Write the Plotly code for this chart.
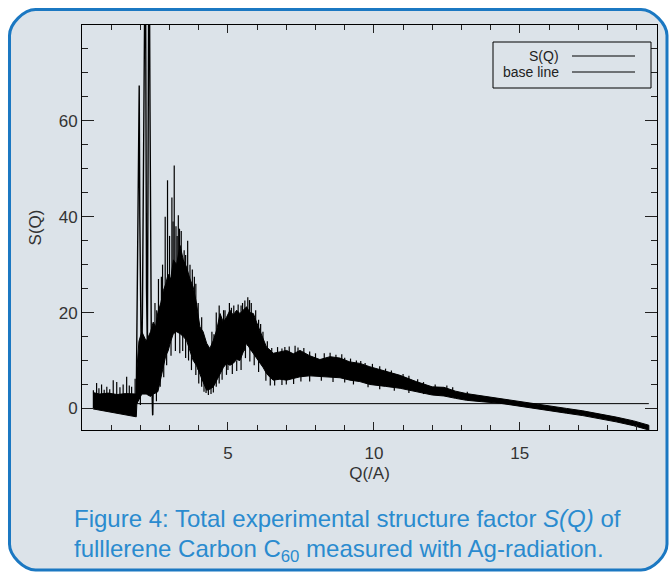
import plotly.graph_objects as go

# ---------------- data ----------------
# envelope of the dense, noisy S(Q) band
q_env = [0.38, 0.6, 0.9, 1.2, 1.5, 1.86,
         1.88, 1.95, 2.05, 2.2, 2.35, 2.44, 2.52, 2.6, 2.7, 2.79,
         2.87, 2.95, 3.04, 3.13, 3.24, 3.36, 3.47, 3.58, 3.7, 3.81,
         3.92, 4.04, 4.15, 4.27, 4.38, 4.5, 4.62, 4.73, 4.84, 4.95,
         5.07, 5.18, 5.3, 5.41, 5.52, 5.64, 5.75, 5.87, 5.98, 6.1,
         6.21, 6.32, 6.44, 6.55, 6.78, 7.01, 7.24, 7.47, 7.8, 8.15,
         8.5, 8.84, 9.18, 9.52, 9.86, 10.4, 10.9, 11.45, 12.0, 12.4,
         12.8, 13.17, 13.7, 14.3, 15.0, 15.5, 16.03, 16.6, 17.16, 17.7,
         18.3, 18.9, 19.42]
s_hi = [3.3, 3.0, 3.2, 2.9, 3.1, 3.0,
        8, 14, 16, 14, 16, 18, 17, 20, 22, 24.6,
        26, 28, 27, 31, 30, 34, 31, 29.5, 27, 25.3,
        22, 17, 16, 13.6, 12.5, 14.2, 16.5, 19.8, 18, 19,
        20.5, 19.5, 20.5, 19.8, 20.5, 21.2, 20, 19.8, 18, 16.3,
        14.5, 12.8, 12.2, 11.5, 11.8, 12.1, 11.4, 12.1, 11.0, 10.2,
        10.8, 10.5, 9.7, 9.4, 8.7, 7.8, 6.9, 5.6, 4.5, 4.4,
        3.6, 3.1, 2.6, 2.1, 1.4, 1.0, 0.5, 0.0, -0.5, -1.1,
        -1.8, -2.6, -3.5]
s_lo = [-0.1, -0.35, -0.7, -1.0, -1.35, -1.75,
        1, 2, 3, 3, 2.5, 3, 3.2, 3.5, 6, 8.7,
        11, 12, 14, 15.6, 16, 15.6, 15, 14.2, 12, 10,
        9, 7.3, 5.5, 3.8, 4.0, 4.5, 6, 7.3, 8.5, 9.4,
        9.0, 9.4, 10.2, 10, 11.5, 13.6, 12.5, 11.5, 10.5, 9.4,
        8.5, 7.3, 6.5, 5.9, 6.1, 5.9, 6.3, 6.6, 6.8, 6.6,
        6.5, 6.4, 5.9, 5.6, 5.0, 4.6, 4.2, 3.5, 2.8, 2.6,
        2.1, 1.7, 1.4, 1.1, 0.4, 0.0, -0.5, -1.0, -1.5, -2.1,
        -2.8, -3.6, -4.5]

# individual noise spikes sticking out of the band (Q, from, to)
spike_q = [0.39, 0.50, 0.58, 0.67, 0.76, 0.85, 0.95, 1.07, 1.19, 1.30, 1.41, 1.53, 1.62, 1.70, 1.82,
           2.50, 2.62, 2.76, 2.85, 2.93, 3.00, 3.08, 3.16, 3.22, 3.30, 3.40, 3.50, 3.62, 3.70, 3.78, 3.90, 3.98,
           4.10, 4.60, 4.70, 4.85, 5.05, 5.20, 5.35, 5.50, 5.68, 5.80, 5.95, 6.05, 6.20,
           6.70, 6.95, 7.30, 7.60, 8.00, 8.30, 8.70, 9.00, 9.40, 9.70, 10.2, 10.6, 11.2, 11.7, 12.5,
           2.42, 2.00, 2.55, 2.68, 2.90, 3.20, 3.45, 3.65, 3.90, 4.10, 4.25, 4.33, 4.42, 4.60, 4.80,
           5.00, 5.30, 5.60, 5.90, 6.30, 6.60, 7.00, 7.50, 8.20, 9.00, 9.80, 10.7,
           2.56, 2.72, 3.12, 3.26, 3.34, 3.55, 3.85, 4.45, 4.52, 4.90, 5.12, 5.45, 5.58, 5.74,
           6.12, 6.35, 6.50, 6.85, 7.10, 7.40, 7.80, 8.50, 8.90, 9.20, 9.55, 9.95, 10.4, 11.0,
           11.5, 12.1, 12.7, 13.2,
           2.80, 3.05, 3.35, 3.55, 3.75, 4.00, 4.18, 4.50, 4.70, 4.95, 5.15, 5.45, 5.75, 6.05,
           6.45, 6.85, 7.25, 7.80, 8.60, 9.30, 10.2, 11.2]
spike_from = [0, 0, 0, 0, 0, 0, 0, 0, 0, 0, 0, 0, 0, 0, 0,
              5, 8, 12, 14, 14, 16, 18, 18, 18, 18, 18, 16, 15, 14, 12, 10, 8,
              6, 8, 8, 10, 10, 10, 11, 12, 13, 12, 11, 10, 9,
              7, 7, 7, 7, 7, 7, 7, 7, 6, 6, 5, 5, 4, 3, 3,
              3, 3, 6, 8, 14, 17, 16, 14, 10, 7, 5, 5, 5, 6, 9,
              10, 10, 13, 12, 8, 7, 7, 7, 7, 6.5, 6, 5,
              6, 10, 18, 18, 18, 15, 11, 5, 5, 10, 10, 12, 12, 13,
              10, 8, 7, 7, 7, 7, 7, 7, 7, 6, 6, 6, 5, 4.5,
              4, 3, 3, 2,
              12, 16, 17, 15, 12, 9, 6, 6, 8, 10, 10, 12, 13, 10,
              7, 7, 7, 7, 7, 6, 5, 4]
spike_to = [3.8, 5.3, 4.2, 5.0, 3.9, 4.5, 4.0, 5.9, 5.5, 4.4, 5.0, 6.6, 4.8, 4.5, 6.2,
            22, 27, 30, 40, 47.6, 36, 44, 50.7, 38, 40.3, 37, 33, 35, 30, 29, 26, 22,
            19, 20, 21.5, 20.5, 22, 21.5, 21.7, 22, 23.2, 22, 20.5, 18.5, 16,
            12.8, 12.8, 13.1, 12.6, 11.5, 11.5, 11.2, 10.6, 10.0, 9.5, 8.8, 7.9, 6.8, 5.5, 4.8,
            -1.4, 0.7, 1.5, 4.5, 9, 12, 12, 10, 7, 4.5, 3.2, 2.8, 3.0, 4.5, 6,
            8, 7.8, 10.5, 9, 5.8, 4.8, 5.0, 5.6, 5.8, 5.4, 4.4, 3.7,
            20.5, 27.5, 39, 36, 37.5, 32, 27.5, 16, 15.5, 20.5, 21, 21.5, 22.5, 22.6,
            17.6, 14, 12.6, 12.5, 12.9, 12.7, 11.9, 11.6, 11.3, 10.4, 9.9, 9.3, 8.3, 7.2,
            6.1, 5.0, 4.4, 3.5,
            6.5, 11, 11.5, 10.5, 8, 5.2, 3.5, 3.3, 5.2, 7, 7.2, 8, 9.8, 7.6,
            4.8, 4.9, 5.1, 5.6, 5.5, 5.0, 4.0, 3.2]

# the sharp peaks near Q = 2 (run off the top of the plot)
peak_q = [1.86, 1.89, 1.92, 1.94, 1.96, 1.98, 2.01, 2.04, 2.07, 2.10, 2.13, 2.16,
          2.18, 2.19, 2.21, 2.24, 2.27, 2.29, 2.31, 2.33, 2.35, 2.38, 2.42, 2.45]
peak_s = [3, 20, 43, 60, 67.4, 40, 10, 5, 20, 45, 70, 95,
          85, 60, 25, 12, 50, 95, 90, 62, 20, 8, -1.4, 8]

# base line
base_q = [0.38, 19.42]
base_s = [1.0, 1.0]

x_range = [0, 19.7]
y_range = [-4.5, 80]
x_ticks = [5, 10, 15]
y_ticks = [0, 20, 40, 60]

# ---------------- layout geometry (pixels) ----------------
W, H = 670, 572
L, R, T, B = 82, 657, 25, 430   # plot-area edges in pixels


def px(x):
    return (x - L) / (R - L)


def py(y):
    return (B - y) / (B - T)


fig = go.Figure()

# noise band
fig.add_trace(go.Scatter(
    x=q_env + q_env[::-1], y=s_hi + s_lo[::-1],
    mode="lines", fill="toself", fillcolor="black",
    line=dict(color="black", width=1), showlegend=False, hoverinfo="skip"))

# spikes
sx, sy = [], []
for q, a, b in zip(spike_q, spike_from, spike_to):
    sx += [q, q, None]
    sy += [a, b, None]
fig.add_trace(go.Scatter(x=sx, y=sy, mode="lines",
                         line=dict(color="black", width=1.2),
                         showlegend=False, hoverinfo="skip"))

# big peaks
fig.add_trace(go.Scatter(x=peak_q, y=peak_s, mode="lines",
                         line=dict(color="black", width=1.4),
                         showlegend=False, hoverinfo="skip"))

# base line
fig.add_trace(go.Scatter(x=base_q, y=base_s, mode="lines",
                         line=dict(color="black", width=1),
                         showlegend=False, hoverinfo="skip"))

# ---------------- background rounded box ----------------
bx0, by0, bx1, by1, r = 9.5, 9.5, 667, 570, 26
k = 0.45 * r


def P(x, y):
    return f"{px(x):.5f},{py(y):.5f}"


path = ("M " + P(bx0 + r, by0) +
        " L " + P(bx1 - r, by0) +
        " C " + P(bx1 - r + k, by0) + " " + P(bx1, by0 + r - k) + " " + P(bx1, by0 + r) +
        " L " + P(bx1, by1 - r) +
        " C " + P(bx1, by1 - r + k) + " " + P(bx1 - r + k, by1) + " " + P(bx1 - r, by1) +
        " L " + P(bx0 + r, by1) +
        " C " + P(bx0 + r - k, by1) + " " + P(bx0, by1 - r + k) + " " + P(bx0, by1 - r) +
        " L " + P(bx0, by0 + r) +
        " C " + P(bx0, by0 + r - k) + " " + P(bx0 + r - k, by0) + " " + P(bx0 + r, by0) + " Z")

shapes = [dict(type="path", xref="paper", yref="paper", path=path,
               fillcolor="#dce3e9", line=dict(color="#1b78c2", width=3),
               layer="below")]

# ---------------- manual legend ----------------
lg_x0, lg_x1, lg_y0, lg_y1 = 493, 651, 42, 88
shapes.append(dict(type="rect", xref="paper", yref="paper",
                   x0=px(lg_x0), x1=px(lg_x1), y0=py(lg_y1), y1=py(lg_y0),
                   line=dict(color="black", width=1), fillcolor="rgba(0,0,0,0)"))
legend_rows = [("S(Q)", 56), ("base line", 72)]
annotations = []
for label, yy in legend_rows:
    shapes.append(dict(type="line", xref="paper", yref="paper",
                       x0=px(572), x1=px(635), y0=py(yy), y1=py(yy),
                       line=dict(color="black", width=1)))
    annotations.append(dict(text=label, xref="paper", yref="paper",
                            x=px(561), y=py(yy), xanchor="right", yanchor="middle",
                            showarrow=False,
                            font=dict(family="Liberation Sans", size=14, color="#222")))

# ---------------- caption ----------------
cap_font = dict(family="Liberation Sans", size=24, color="#2a8bcf")
annotations.append(dict(text="Figure 4: Total experimental structure factor <i>S(Q)</i> of",
                        xref="paper", yref="paper", x=px(72), y=py(518),
                        xanchor="left", yanchor="middle", showarrow=False, font=cap_font))
annotations.append(dict(text="fulllerene Carbon C<sub>60</sub> measured with Ag-radiation.",
                        xref="paper", yref="paper", x=px(72), y=py(550),
                        xanchor="left", yanchor="middle", showarrow=False, font=cap_font))

tick_font = dict(family="Liberation Sans", size=17, color="#333")

fig.update_layout(
    width=W, height=H,
    margin=dict(l=L, r=W - R, t=T, b=H - B),
    paper_bgcolor="white", plot_bgcolor="rgba(0,0,0,0)",
    shapes=shapes, annotations=annotations, showlegend=False,
    xaxis=dict(range=x_range, tickvals=x_ticks, ticks="inside", ticklen=8,
               tickcolor="#222", tickwidth=1, showline=True, linecolor="black",
               linewidth=1, mirror="ticks", showgrid=False, zeroline=False,
               tickfont=tick_font, ticklabelstandoff=8,
               title=dict(text="Q(/A)", font=tick_font, standoff=4),
               minor=dict(dtick=1, tick0=0, ticks="inside", ticklen=5,
                          tickcolor="#222", showgrid=False)),
    yaxis=dict(range=y_range, tickvals=y_ticks, ticks="inside", ticklen=12,
               tickcolor="#222", tickwidth=1, showline=True, linecolor="black",
               linewidth=1, mirror="ticks", showgrid=False, zeroline=False,
               tickfont=tick_font,
               title=dict(text="S(Q)", font=tick_font, standoff=12),
               minor=dict(dtick=5, tick0=0, ticks="inside", ticklen=6,
                          tickcolor="#222", showgrid=False)),
)

fig.write_html("out.html")
